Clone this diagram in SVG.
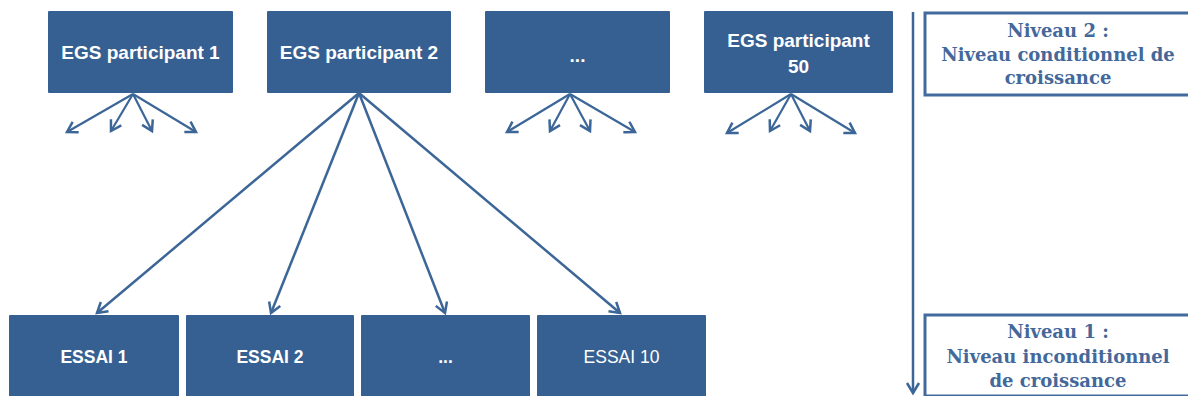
<svg xmlns="http://www.w3.org/2000/svg" width="1188" height="396" viewBox="0 0 1188 396">
  <style>
    .box { fill: #376092; }
    .lbl { font-family: "Liberation Sans", Arial, sans-serif; font-size: 19px; fill: #ffffff; text-anchor: middle; }
    .trial { font-size: 17.5px; }
    .b { font-weight: bold; }
    .lvl { fill: #ffffff; stroke: #426a9c; stroke-width: 3; }
    .lvltxt { font-family: "DejaVu Serif", "Liberation Serif", serif; font-weight: bold; font-size: 18px; fill: #44689a; text-anchor: middle; }
    .conn { stroke: #3c6697; stroke-width: 2.5; fill: none; marker-end: url(#arrow); }
    .small { stroke-width: 2.2; }
  </style>
  <defs>
    <marker id="arrow" markerUnits="userSpaceOnUse" markerWidth="16" markerHeight="16" viewBox="-12 -8 14 16" refX="0" refY="0" orient="auto">
      <path d="M -10 -6 L 0 0 L -10 6" fill="none" stroke="#3c6697" stroke-width="2.5" stroke-linejoin="miter"/>
    </marker>
  </defs>

  <!-- level-2 units -->
  <g id="egs1">
    <rect class="box" x="48" y="11" width="185" height="82" rx="1"/>
    <text class="lbl b" x="140.5" y="59">EGS participant 1</text>
  </g>
  <g id="egs2">
    <rect class="box" x="267" y="11" width="184" height="82" rx="1"/>
    <text class="lbl b" x="359" y="59">EGS participant 2</text>
  </g>
  <g id="egs-etc">
    <rect class="box" x="485" y="11" width="185" height="82" rx="1"/>
    <text class="lbl b" x="577.5" y="62">...</text>
  </g>
  <g id="egs50">
    <rect class="box" x="704" y="11" width="189" height="82" rx="1"/>
    <text class="lbl b" x="798.5" y="47">EGS participant</text>
    <text class="lbl b" x="798.5" y="73">50</text>
  </g>

  <!-- level-1 units -->
  <g id="essai1">
    <rect class="box" x="9" y="315" width="170" height="85" rx="1"/>
    <text class="lbl trial b" x="94" y="363">ESSAI 1</text>
  </g>
  <g id="essai2">
    <rect class="box" x="186" y="315" width="168" height="85" rx="1"/>
    <text class="lbl trial b" x="270" y="363">ESSAI 2</text>
  </g>
  <g id="essai-etc">
    <rect class="box" x="361" y="315" width="169" height="85" rx="1"/>
    <text class="lbl trial b" x="445.5" y="363">...</text>
  </g>
  <g id="essai10">
    <rect class="box" x="537" y="315" width="169" height="85" rx="1"/>
    <text class="lbl trial" x="621.5" y="363">ESSAI 10</text>
  </g>

  <!-- level captions -->
  <g id="niveau2">
    <rect class="lvl" x="925" y="13" width="270" height="82"/>
    <text class="lvltxt" x="1058" y="37">Niveau 2 :</text>
    <text class="lvltxt" x="1058" y="61">Niveau conditionnel de</text>
    <text class="lvltxt" x="1058" y="84">croissance</text>
  </g>
  <g id="niveau1">
    <rect class="lvl" x="925" y="315" width="270" height="81"/>
    <text class="lvltxt" x="1058" y="338">Niveau 1 :</text>
    <text class="lvltxt" x="1058" y="363">Niveau inconditionnel</text>
    <text class="lvltxt" x="1058" y="387">de croissance</text>
  </g>

  <g id="connectors">
    <!-- participant 2 to its trials -->
    <line class="conn" x1="359" y1="93" x2="97" y2="313"/>
    <line class="conn" x1="359" y1="93" x2="271" y2="313"/>
    <line class="conn" x1="359" y1="93" x2="445" y2="313"/>
    <line class="conn" x1="359" y1="93" x2="620" y2="313"/>
    <!-- stub fans under the other participants -->
    <line class="conn small" x1="133" y1="94" x2="67" y2="132"/>
    <line class="conn small" x1="133" y1="94" x2="111" y2="131"/>
    <line class="conn small" x1="133" y1="94" x2="152" y2="131"/>
    <line class="conn small" x1="133" y1="94" x2="196" y2="132"/>
    <line class="conn small" x1="570" y1="94" x2="507" y2="132"/>
    <line class="conn small" x1="570" y1="94" x2="550" y2="131"/>
    <line class="conn small" x1="570" y1="94" x2="590" y2="131"/>
    <line class="conn small" x1="570" y1="94" x2="635" y2="132"/>
    <line class="conn small" x1="791" y1="94" x2="727" y2="133"/>
    <line class="conn small" x1="791" y1="94" x2="770" y2="131"/>
    <line class="conn small" x1="791" y1="94" x2="810" y2="131"/>
    <line class="conn small" x1="791" y1="94" x2="855" y2="133"/>
    <!-- level axis -->
    <line class="conn" x1="913" y1="12" x2="913" y2="393"/>
  </g>
</svg>
